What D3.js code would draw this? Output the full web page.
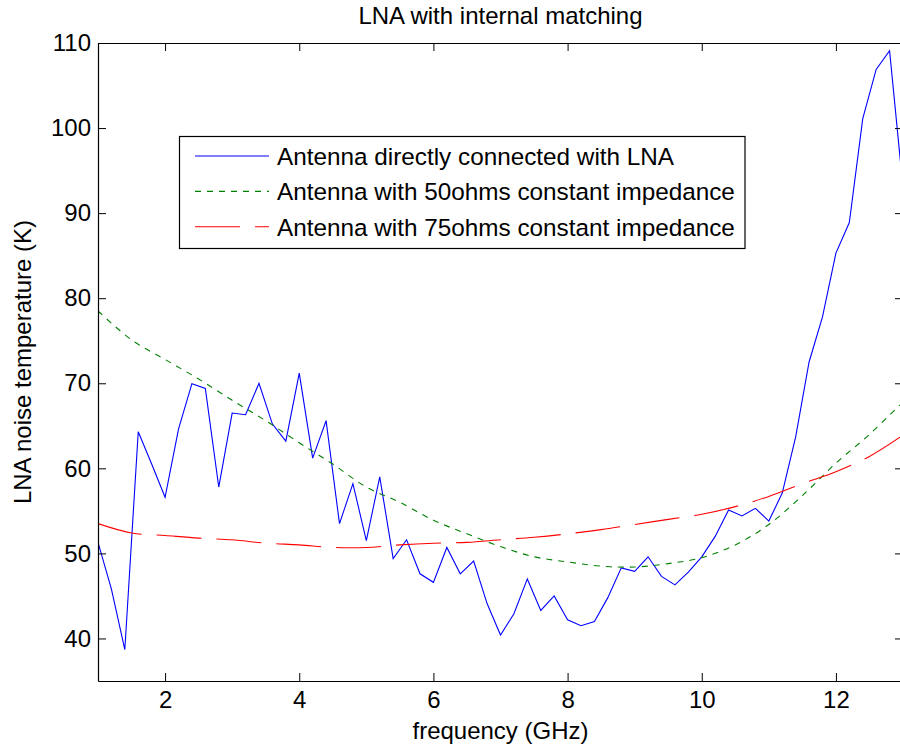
<!DOCTYPE html>
<html>
<head>
<meta charset="utf-8">
<script src="https://cdn.jsdelivr.net/npm/d3@7"></script>
<style>
  html, body { margin: 0; padding: 0; background: #fff; }
  svg { display: block; font-family: "Liberation Sans", Arial, sans-serif; }
</style>
</head>
<body>
<svg id="chart" width="900" height="750"></svg>
<script>
// ---------------- data ----------------
const blueFreq = d3.range(0, 61).map(i => +(1 + i * 0.2).toFixed(1));
const blueValues = [
  51.3, 45.8, 38.7, 64.3, 60.5, 56.6, 64.6, 69.95, 69.4, 57.8,
  66.5, 66.3, 70.0, 65.2, 63.2, 71.2, 61.2, 65.6, 53.5, 58.2,
  51.5, 59.0, 49.4, 51.6, 47.6, 46.6, 50.7, 47.6, 49.1, 44.1,
  40.4, 42.9, 47.0, 43.3, 45.0, 42.2, 41.5, 42.0, 44.8, 48.3,
  47.9, 49.6, 47.3, 46.3, 47.8, 49.6, 52.0, 55.1, 54.4, 55.3,
  53.8, 57.1, 63.7, 72.5, 77.8, 85.3, 88.9, 101.1, 106.9, 109.1,
  93.0
];
const smoothFreq = d3.range(0, 25).map(i => 1 + i * 0.5);
const greenValues = [
  78.5, 75.1, 72.8, 70.5, 68.0, 65.6, 63.0, 60.5, 57.8, 56.0,
  53.9, 52.3, 50.8, 49.6, 49.0, 48.5, 48.4, 48.8, 49.5, 51.0,
  53.4, 56.8, 60.6, 64.0, 67.8
];
const redValues = [
  53.5, 52.4, 52.1, 51.8, 51.6, 51.2, 51.0, 50.7, 50.7, 51.0,
  51.2, 51.3, 51.6, 51.9, 52.3, 52.8, 53.4, 54.0, 54.6, 55.5,
  56.7, 58.2, 59.6, 61.4, 63.9
];
const xTicks = [2, 4, 6, 8, 10, 12];
const yTicks = [40, 50, 60, 70, 80, 90, 100, 110];
const seriesNames = [
  "Antenna directly connected with LNA",
  "Antenna with 50ohms constant impedance",
  "Antenna with 75ohms constant impedance"
];
const titleText = "LNA with internal matching";
const xLabelText = "frequency (GHz)";
const yLabelText = "LNA noise temperature (K)";

// ---------------- layout ----------------
const PL = 98, PR = 903, PT = 43, PB = 681;
const FS = 24;
const svg = d3.select("#chart");

const x = d3.scaleLinear().domain([1, 13]).range([PL, PR]);
const y = d3.scaleLinear().domain([35, 110]).range([PB, PT]);

const series = [
  { name: seriesNames[0], xs: blueFreq, ys: blueValues, color: "#0000ff", dash: null, curve: d3.curveLinear },
  { name: seriesNames[1], xs: smoothFreq, ys: greenValues, color: "#008000", dash: "6,6", curve: d3.curveCatmullRom },
  { name: seriesNames[2], xs: smoothFreq, ys: redValues, color: "#ff0000", dash: "45,15", curve: d3.curveCatmullRom }
];

// clip
svg.append("defs").append("clipPath").attr("id", "plotclip")
  .append("rect").attr("x", PL).attr("y", PT).attr("width", PR - PL).attr("height", PB - PT);

// lines
const gLines = svg.append("g").attr("clip-path", "url(#plotclip)");
series.forEach(s => {
  const pts = s.xs.map((v, i) => [v, s.ys[i]]);
  const line = d3.line().x(d => x(d[0])).y(d => y(d[1])).curve(s.curve);
  gLines.append("path")
    .attr("d", line(pts))
    .attr("fill", "none")
    .attr("stroke", s.color)
    .attr("stroke-width", 1.1)
    .attr("stroke-dasharray", s.dash);
});

// axes (ticks inward, box)
function styleAxis(sel) {
  sel.selectAll("path").attr("stroke", "#000").attr("stroke-width", 1.2);
  sel.selectAll("line").attr("stroke", "#000");
  sel.selectAll("text").attr("font-size", FS).attr("fill", "#000")
    .attr("font-family", "Liberation Sans, Arial, sans-serif");
}
const axBottom = svg.append("g").attr("transform", `translate(0,${PB})`)
  .call(d3.axisBottom(x).tickValues(xTicks).tickSizeInner(-8).tickSizeOuter(0).tickPadding(10));
styleAxis(axBottom);
const axLeft = svg.append("g").attr("transform", `translate(${PL},0)`)
  .call(d3.axisLeft(y).tickValues(yTicks).tickSizeInner(-8).tickSizeOuter(0).tickPadding(7));
styleAxis(axLeft);
const axTop = svg.append("g").attr("transform", `translate(0,${PT})`)
  .call(d3.axisTop(x).tickValues(xTicks).tickSizeInner(-8).tickSizeOuter(0).tickFormat(""));
styleAxis(axTop);
const axRight = svg.append("g").attr("transform", `translate(${PR},0)`)
  .call(d3.axisRight(y).tickValues(yTicks).tickSizeInner(-8).tickSizeOuter(0).tickFormat(""));
styleAxis(axRight);

// title & labels
svg.append("text").attr("x", (PL + PR) / 2).attr("y", 24)
  .attr("text-anchor", "middle").attr("font-size", FS).text(titleText);
svg.append("text").attr("x", (PL + PR) / 2).attr("y", 739)
  .attr("text-anchor", "middle").attr("font-size", FS).text(xLabelText);
svg.append("text").attr("transform", `translate(31,${(PT + PB) / 2}) rotate(-90)`)
  .attr("text-anchor", "middle").attr("font-size", FS).text(yLabelText);

// legend
const lg = svg.append("g");
lg.append("rect").attr("x", 179.5).attr("y", 136.5).attr("width", 565.5).attr("height", 112)
  .attr("fill", "#fff").attr("stroke", "#000").attr("stroke-width", 1.2);
series.forEach((s, i) => {
  const yy = 156 + i * 35.4;
  lg.append("line").attr("x1", 195).attr("x2", 269).attr("y1", yy).attr("y2", yy)
    .attr("stroke", s.color).attr("stroke-width", 1.1).attr("stroke-dasharray", s.dash);
  lg.append("text").attr("x", 277).attr("y", yy + 9).attr("font-size", 24.3).text(s.name);
});
</script>
</body>
</html>
